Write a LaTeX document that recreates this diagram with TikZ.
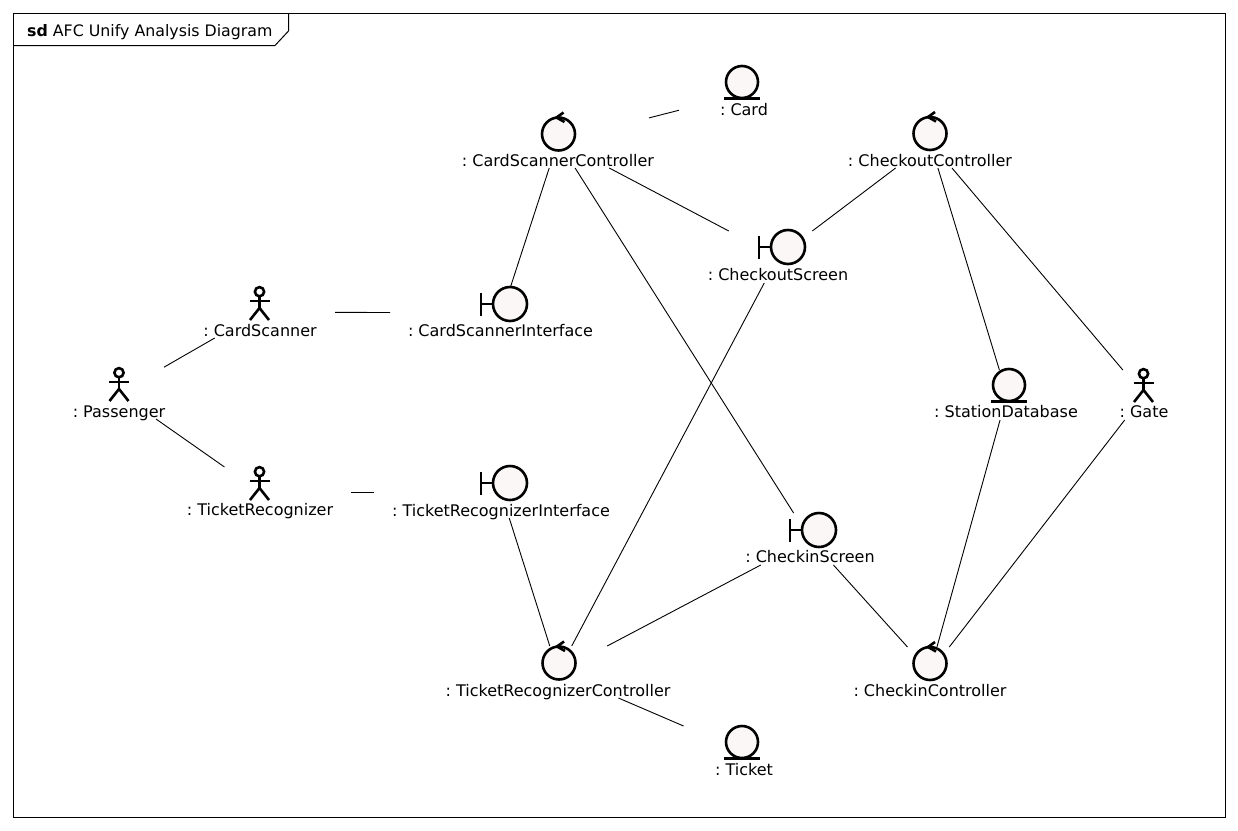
\documentclass[tikz,border=0pt]{standalone}
\usepackage{fontspec}
\setmainfont{DejaVu Sans}
\usepackage{tikz}
\usetikzlibrary{positioning}

\definecolor{iconfill}{HTML}{FBF7F6}

\tikzset{
  objbox/.style 2 args={minimum width=#1, minimum height=#2, inner sep=0pt, outer sep=0pt},
  objname/.style={inner sep=0pt, text height=11pt, text depth=3pt, font=\frenchspacing\fontsize{16}{18}\selectfont},
  assoc/.style={line width=0.9pt},
  icon/.style={line width=2.6pt, fill=iconfill},
  iconline/.style={line width=2.6pt},
  pics/controlicon/.style={code={
    \draw[icon] (0,0) circle (16.5);
    \draw[iconline] (5,-21.5) -- (-2,-16.5) -- (6,-12);
  }},
  pics/entityicon/.style={code={
    \draw[icon] (0,0) circle (16);
    \draw[iconline] (-18,16.5) -- (18,16.5);
  }},
  pics/boundaryicon/.style={code={
    \draw[iconline] (-29,0) -- (-16,0);
    \draw[iconline] (-29,-11.5) -- (-29,11.5);
    \draw[icon] (0,0) circle (17);
  }},
  pics/actoricon/.style={code={
    \draw[line width=2.6pt] (0,-9.3) circle (4.6);
    \draw[line width=2.6pt] (0,-4.7) -- (0,8.5);
    \draw[line width=2.6pt] (-10,0) -- (10,0);
    \draw[line width=2.6pt] (-9.5,19) -- (0,7) -- (9.5,19);
  }}
}

\begin{document}
\begin{tikzpicture}[x=1pt,y=-1pt]
\useasboundingbox (0,0) rectangle (1238,830);

% frame
\draw[line width=1pt] (13.5,13.5) rectangle (1225.5,817.5);
\draw[line width=1pt] (288.5,13.5) -- (288.5,31) -- (275,45.5) -- (13.5,45.5);
\node(frametitle)[objname,font=\fontsize{15.8}{18}\selectfont,anchor=base west] at (27,36) {\textbf{sd} AFC Unify Analysis Diagram};

% objects
\node(passenger)[objbox={90pt}{52pt}] at (119,393) {};
\node(passengername)[objname,above=-1.5pt of passenger.south] {: Passenger};
\pic at (119,382) {actoricon};

\node(cardscanner)[objbox={150pt}{52pt}] at (260,312) {};
\node(cardscannername)[objname,above=-1.5pt of cardscanner.south] {: CardScanner};
\pic at (259.5,301) {actoricon};

\node(ticketrecognizer)[objbox={182pt}{50pt}] at (260,492) {};
\node(ticketrecognizername)[objname,above=-1.5pt of ticketrecognizer.south] {: TicketRecognizer};
\pic at (259.5,481) {actoricon};

\node(gate)[objbox={48pt}{50pt}] at (1144,395) {};
\node(gatename)[objname,above=-1pt of gate.south] {: Gate};
\pic at (1143.5,383) {actoricon};

\node(cardinterface)[objbox={224pt}{54pt}] at (502,313) {};
\node(cardinterfacename)[objname,above=0pt of cardinterface.south,xshift=-1.5pt] {: CardScannerInterface};
\pic at (510,304) {boundaryicon};

\node(ticketinterface)[objbox={254pt}{52pt}] at (501,492) {};
\node(ticketinterfacename)[objname,above=-1.5pt of ticketinterface.south] {: TicketRecognizerInterface};
\pic at (510,483) {boundaryicon};

\node(checkoutscreen)[objbox={142pt}{52pt}] at (778,257) {};
\node(checkoutscreenname)[objname,above=-1pt of checkoutscreen.south] {: CheckoutScreen};
\pic at (788,247) {boundaryicon};

\node(checkinscreen)[objbox={130pt}{52pt}] at (810,539) {};
\node(checkinscreenname)[objname,above=-1pt of checkinscreen.south] {: CheckinScreen};
\pic at (819,530) {boundaryicon};

\node(cardcontroller)[objbox={182pt}{54pt}] at (558,141) {};
\node(cardcontrollername)[objname,above=-1.5pt of cardcontroller.south] {: CardScannerController};
\pic at (558.5,134) {controlicon};

\node(checkoutcontroller)[objbox={164pt}{52pt}] at (930,142) {};
\node(checkoutcontrollername)[objname,above=-1.5pt of checkoutcontroller.south] {: CheckoutController};
\pic at (930,133.5) {controlicon};

\node(ticketcontroller)[objbox={226pt}{52pt}] at (558,672) {};
\node(ticketcontrollername)[objname,above=-1.5pt of ticketcontroller.south] {: TicketRecognizerController};
\pic at (559,663) {controlicon};

\node(checkincontroller)[objbox={152pt}{50pt}] at (930,672) {};
\node(checkincontrollername)[objname,above=-2.5pt of checkincontroller.south] {: CheckinController};
\pic at (930,663.5) {controlicon};

\node(card)[objbox={128pt}{48pt}] at (743,94) {};
\node(cardname)[objname,above=-1pt of card.south,xshift=1pt] {: Card};
\pic at (742,82) {entityicon};

\node(ticket)[objbox={122pt}{52pt}] at (744,752) {};
\node(ticketname)[objname,above=-1pt of ticket.south] {: Ticket};
\pic at (742,742) {entityicon};

\node(stationdb)[objbox={142pt}{50pt}] at (1007,395) {};
\node(stationdbname)[objname,above=-1pt of stationdb.south,xshift=-1pt] {: StationDatabase};
\pic at (1009,385) {entityicon};

% associations
\draw[assoc] (passenger) -- (cardscanner);
\draw[assoc] (passenger) -- (ticketrecognizer);
\draw[assoc] (cardscanner) -- (cardinterface);
\draw[assoc] (ticketrecognizer) -- (ticketinterface);
\draw[assoc] (cardcontroller) -- (card);
\draw[assoc] (cardcontroller) -- (cardinterface);
\draw[assoc] (cardcontroller) -- (checkoutscreen);
\draw[assoc] (cardcontroller) -- (checkinscreen);
\draw[assoc] (checkoutcontroller) -- (checkoutscreen);
\draw[assoc] (checkoutcontroller) -- (stationdb);
\draw[assoc] (checkoutcontroller) -- (gate);
\draw[assoc] (stationdb) -- (checkincontroller);
\draw[assoc] (gate) -- (checkincontroller);
\draw[assoc] (checkinscreen) -- (checkincontroller);
\draw[assoc] (checkinscreen) -- (ticketcontroller);
\draw[assoc] (checkoutscreen) -- (ticketcontroller);
\draw[assoc] (ticketinterface) -- (ticketcontroller);
\draw[assoc] (ticketcontroller) -- (ticket);

\end{tikzpicture}
\end{document}
